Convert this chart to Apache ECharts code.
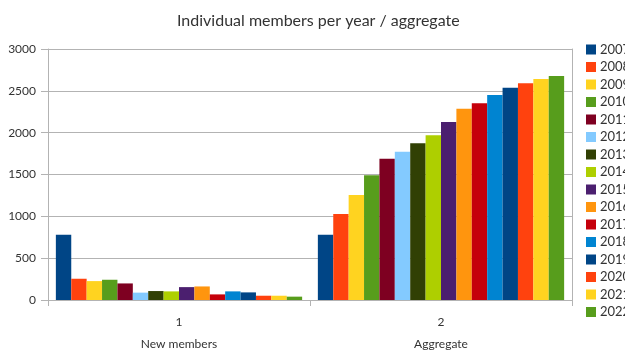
<!DOCTYPE html>
<html>
<head>
<meta charset="utf-8">
<script src="https://cdn.jsdelivr.net/npm/echarts@6/dist/echarts.min.js"></script>
<style>
  html, body { margin: 0; padding: 0; background: #fff; }
  #chart { width: 625px; height: 350px; }
</style>
</head>
<body>
<div id="chart"></div>
<script>
  // categories on the x axis
  var categories = ['New members', 'Aggregate'];
  var years = ['2007', '2008', '2009', '2010', '2011', '2012', '2013', '2014',
               '2015', '2016', '2017', '2018', '2019', '2020', '2021', '2022'];
  // new members per year
  var newMembers = [780, 254, 226, 242, 198, 88, 107, 103, 154, 162, 67, 103, 91, 51, 51, 40];
  // running total
  var aggregate = [780, 1029, 1254, 1491, 1688, 1771, 1874, 1969, 2127, 2286, 2353, 2451, 2538, 2590, 2642, 2677];
  var yTicks = [0, 500, 1000, 1500, 2000, 2500, 3000];

  var palette = ['#004586', '#ff420e', '#ffd320', '#579d1c', '#7e0021', '#83caff', '#314004', '#aecf00',
                 '#4b1f6f', '#ff950e', '#c5000b', '#0084d1', '#004586', '#ff420e', '#ffd320', '#579d1c'];

  var series = years.map(function (y, i) {
    return {
      name: y,
      type: 'bar',
      data: [newMembers[i], aggregate[i]],
      barGap: '0%',
      barCategoryGap: '6%',
      itemStyle: { color: palette[i] },
      animation: false
    };
  });

  var myChart = echarts.init(document.getElementById('chart'));
  myChart.setOption({
    color: palette,
    title: {
      text: 'Individual members per year / aggregate',
      left: 172,
      top: 8,
      textStyle: { fontFamily: 'Lato', fontSize: 16, fontWeight: 'normal', color: '#333' }
    },
    legend: {
      orient: 'vertical',
      left: 586,
      top: 43,
      padding: 0,
      itemWidth: 10,
      itemHeight: 10,
      itemGap: 4.5,
      icon: 'rect',
      textStyle: { fontFamily: 'Lato', fontSize: 13, color: '#333', lineHeight: 12, padding: [0, 0, 0, -1] },
      data: years
    },
    grid: { left: 48, right: 53, top: 49, bottom: 48, containLabel: false },
    xAxis: {
      type: 'category',
      data: categories,
      axisLine: { lineStyle: { color: '#b3b3b3' } },
      axisTick: { show: true, length: 6, lineStyle: { color: '#b3b3b3' } },
      axisLabel: {
        margin: 11,
        formatter: function (v, i) { return '{n|' + (i + 1) + '}\n{c|' + v + '}'; },
        rich: {
          n: { fontFamily: 'Lato', fontSize: 12, color: '#333', lineHeight: 22 },
          c: { fontFamily: 'Lato', fontSize: 12, color: '#333', lineHeight: 22 }
        }
      }
    },
    yAxis: [{
      type: 'value',
      min: yTicks[0],
      max: yTicks[yTicks.length - 1],
      interval: 500,
      axisLine: { show: true, lineStyle: { color: '#b3b3b3' } },
      axisTick: { show: true, length: 7, lineStyle: { color: '#b3b3b3' } },
      axisLabel: {
        fontFamily: 'Lato', fontSize: 12, color: '#333', margin: 12,
        formatter: function (v) { return String(v); }
      },
      splitLine: { lineStyle: { color: '#b3b3b3' } }
    }, {
      type: 'value',
      position: 'right',
      min: yTicks[0],
      max: yTicks[yTicks.length - 1],
      interval: 500,
      axisLine: { show: true, lineStyle: { color: '#b3b3b3' } },
      axisTick: { show: false },
      axisLabel: { show: false },
      splitLine: { show: false }
    }],
    series: series
  });
</script>
</body>
</html>
